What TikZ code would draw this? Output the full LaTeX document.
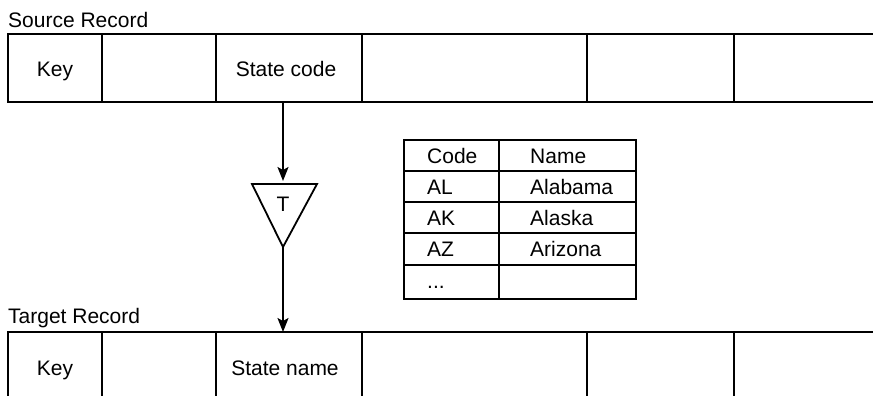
\documentclass[tikz,border=0pt]{standalone}
\usepackage{fontspec}
\setmainfont{Liberation Sans}
\usetikzlibrary{arrows.meta}
\begin{document}
\begin{tikzpicture}[x=1pt,y=-1pt,
  recline/.style={line width=1.8pt},
  tblline/.style={line width=1.4pt},
  lbl/.style={font=\fontsize{21}{25}\selectfont, inner sep=0pt},
  flow/.style={line width=1.5pt,-{Stealth[length=14pt,width=11pt,inset=3pt]}}]
\useasboundingbox (0,0) rectangle (873,396);
% Source record
\node[lbl,anchor=base west] (stitle) at (8,28) {Source Record};
\draw[recline] (873,34) -- (8,34) -- (8,102) -- (873,102);
\foreach \x in {102,216,362,587,734} \draw[recline] (\x,34) -- (\x,102);
\node[lbl,anchor=base] (skey) at (55,77) {Key};
\node[lbl,anchor=base] (scode) at (286,77) {State code};
% Target record
\node[lbl,anchor=base west] (ttitle) at (8,323) {Target Record};
\draw[recline] (873,332) -- (8,332) -- (8,396);
\foreach \x in {102,216,362,587,734} \draw[recline] (\x,332) -- (\x,396);
\node[lbl,anchor=base] (tkey) at (55,375) {Key};
\node[lbl,anchor=base] (tstate) at (285,375) {State name};
% Transformation triangle
\coordinate (trL) at (252,184);
\coordinate (trR) at (317,184);
\coordinate (trT) at (283,184);
\coordinate (trB) at (283,247);
\draw[recline,line join=miter] (trL) -- (trR) -- (trB) -- cycle;
\node[lbl] (tsym) at (283,204) {T};
\coordinate (a1s) at (283,102);
\coordinate (a2e) at (283,332);
\draw[flow,shorten >=3pt] (a1s) -- (trT);
\draw[flow] (trB) -- (a2e);
% Lookup table
\draw[tblline] (404,140) rectangle (636,299);
\draw[tblline] (499,140) -- (499,299);
\foreach \y in {171,202,233,265} \draw[tblline] (404,\y) -- (636,\y);
\node[lbl,anchor=base west] (hcode) at (427,163) {Code};
\node[lbl,anchor=base west] (hname) at (530,163) {Name};
\node[lbl,anchor=base west] (c1) at (427,194) {AL};
\node[lbl,anchor=base west] (n1) at (530,194) {Alabama};
\node[lbl,anchor=base west] (c2) at (427,225) {AK};
\node[lbl,anchor=base west] (n2) at (530,225) {Alaska};
\node[lbl,anchor=base west] (c3) at (427,256) {AZ};
\node[lbl,anchor=base west] (n3) at (530,256) {Arizona};
\node[lbl,anchor=base west] (c4) at (427,288) {...};
\end{tikzpicture}
\end{document}
